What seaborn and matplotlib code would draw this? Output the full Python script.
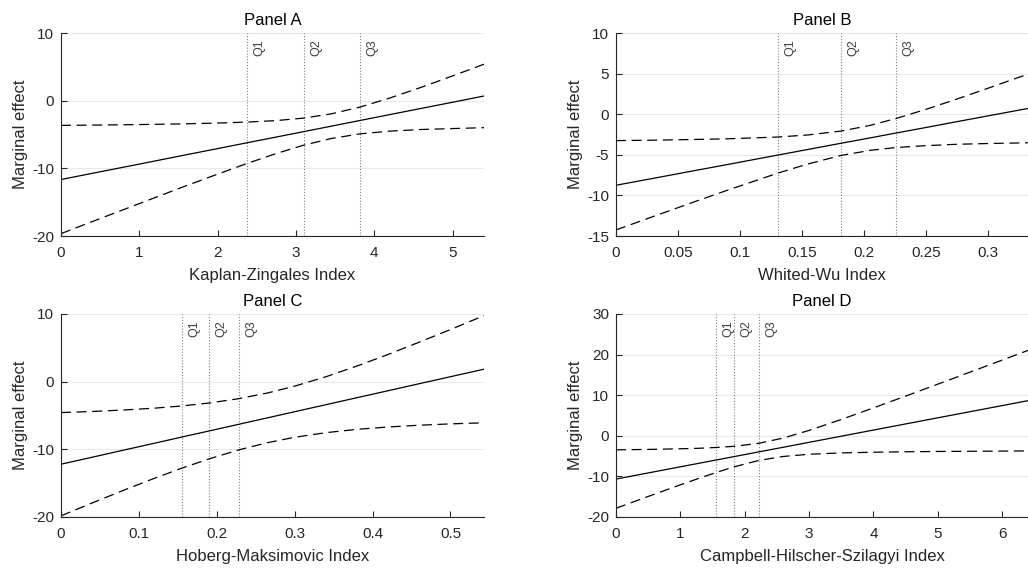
import numpy as np
import pandas as pd
import matplotlib
matplotlib.use("Agg")
import matplotlib.pyplot as plt
import seaborn as sns

# --------------------------------------------------------------
# Data
# --------------------------------------------------------------
titles = ["Panel A", "Panel B", "Panel C", "Panel D"]
xlabels = [
    "Kaplan-Zingales Index",
    "Whited-Wu Index",
    "Hoberg-Maksimovic Index",
    "Campbell-Hilscher-Szilagyi Index",
]

# Panel A
a_x = [0, 0.5, 1, 1.5, 2, 2.38, 2.75, 3.1, 3.45, 3.82, 4.2, 4.6, 5.0, 5.4]
a_me = [-11.65, -10.51, -9.37, -8.22, -7.08, -6.21, -5.37, -4.57, -3.77, -2.92, -2.05, -1.14, -0.23, 0.69]
a_up = [-3.65, -3.60, -3.53, -3.44, -3.31, -3.16, -2.94, -2.57, -1.95, -0.94, 0.40, 1.98, 3.66, 5.39]
a_lo = [-19.65, -17.42, -15.21, -13.0, -10.85, -9.26, -7.80, -6.57, -5.59, -4.90, -4.50, -4.26, -4.12, -3.99]
a_q = [2.38, 3.1, 3.82]

# Panel B
b_x = [0, 0.03, 0.06, 0.09, 0.1305, 0.155, 0.1816, 0.205, 0.2259, 0.25, 0.275, 0.3, 0.332]
b_me = [-8.75, -7.90, -7.04, -6.19, -5.03, -4.33, -3.57, -2.91, -2.31, -1.63, -0.91, -0.20, 0.71]
b_up = [-3.25, -3.20, -3.12, -3.03, -2.81, -2.55, -2.07, -1.37, -0.52, 0.61, 1.88, 3.21, 4.94]
b_lo = [-14.25, -12.60, -10.96, -9.35, -7.25, -6.11, -5.07, -4.45, -4.10, -3.87, -3.70, -3.61, -3.52]
b_q = [0.1305, 0.1816, 0.2259]

# Panel C
c_x = [0, 0.04, 0.08, 0.12, 0.155, 0.19, 0.229, 0.265, 0.3, 0.34, 0.38, 0.42, 0.46, 0.5, 0.543]
c_me = [-12.2, -11.17, -10.13, -9.10, -8.19, -7.29, -6.28, -5.35, -4.44, -3.41, -2.37, -1.34, -0.30, 0.73, 1.84]
c_up = [-4.57, -4.41, -4.19, -3.92, -3.59, -3.16, -2.50, -1.68, -0.66, 0.72, 2.31, 4.02, 5.84, 7.70, 9.76]
c_lo = [-19.83, -17.93, -16.07, -14.28, -12.79, -11.42, -10.06, -9.02, -8.22, -7.54, -7.05, -6.70, -6.44, -6.24, -6.08]
c_q = [0.155, 0.19, 0.229]

# Panel D
d_x = [0, 0.5, 1, 1.3, 1.56, 1.84, 2.22, 2.6, 3.0, 3.5, 4.0, 4.5, 5.0, 5.5, 6.0, 6.4]
d_me = [-10.66, -9.15, -7.64, -6.74, -5.95, -5.11, -3.96, -2.82, -1.61, -0.10, 1.41, 2.92, 4.43, 5.93, 7.44, 8.65]
d_up = [-3.46, -3.36, -3.20, -3.07, -2.88, -2.59, -1.85, -0.55, 1.33, 4.02, 6.87, 9.78, 12.72, 15.68, 18.65, 21.03]
d_lo = [-17.86, -14.94, -12.08, -10.41, -9.02, -7.63, -6.07, -5.09, -4.55, -4.22, -4.05, -3.94, -3.86, -3.82, -3.77, -3.73]
d_q = [1.56, 1.84, 2.22]

panels = [
    (a_x, a_me, a_up, a_lo, a_q, (0, 5.4), (-20, 10), [-20, -10, 0, 10], [0, 1, 2, 3, 4, 5]),
    (b_x, b_me, b_up, b_lo, b_q, (0, 0.332), (-15, 10), [-15, -10, -5, 0, 5, 10],
     [0, 0.05, 0.1, 0.15, 0.2, 0.25, 0.3]),
    (c_x, c_me, c_up, c_lo, c_q, (0, 0.543), (-20, 10), [-20, -10, 0, 10],
     [0, 0.1, 0.2, 0.3, 0.4, 0.5]),
    (d_x, d_me, d_up, d_lo, d_q, (0, 6.4), (-20, 30), [-20, -10, 0, 10, 20, 30],
     [0, 1, 2, 3, 4, 5, 6]),
]

# --------------------------------------------------------------
# Style
# --------------------------------------------------------------
sns.set_theme(style="ticks")
plt.rcParams["font.family"] = ["Liberation Sans", "DejaVu Sans"]
plt.rcParams["axes.unicode_minus"] = False
plt.rcParams["xtick.direction"] = "in"
plt.rcParams["ytick.direction"] = "in"

fig = plt.figure(figsize=(10.28, 5.69), dpi=100)
positions = [
    [0.0593, 0.5852, 0.4115, 0.3568],
    [0.5992, 0.5852, 0.4008, 0.3568],
    [0.0593, 0.0914, 0.4115, 0.3568],
    [0.5992, 0.0914, 0.4008, 0.3568],
]
dash = (0, (8, 4.5))

for i, (x, me, up, lo, q, xlim, ylim, yticks, xticks) in enumerate(panels):
    ax = fig.add_axes(positions[i])
    df = pd.DataFrame({"x": x, "me": me, "up": up, "lo": lo})

    for yv in yticks:
        ax.axhline(yv, color="#e8e8e8", lw=0.8, zorder=0)
    for qi, qv in enumerate(q):
        ax.axvline(qv, color="#808080", lw=0.8, ls=(0, (1, 1.6)), zorder=1)
        ax.annotate(f"Q{qi + 1}", xy=(qv, ylim[1]), xytext=(4.5, -4.5),
                    textcoords="offset points", rotation=90, ha="left", va="top",
                    fontsize=9, color="#404040")

    sns.lineplot(data=df, x="x", y="me", ax=ax, color="black", lw=0.9)
    sns.lineplot(data=df, x="x", y="up", ax=ax, color="black", lw=0.9)
    sns.lineplot(data=df, x="x", y="lo", ax=ax, color="black", lw=0.9)
    ax.lines[-2].set_linestyle(dash)
    ax.lines[-1].set_linestyle(dash)

    ax.set_xlim(*xlim)
    ax.set_ylim(*ylim)
    ax.set_yticks(yticks)
    ax.set_xticks(xticks)
    ax.set_xticklabels([f"{t:g}" for t in xticks])
    ax.set_yticklabels([f"{t:g}" for t in yticks])
    ax.tick_params(labelsize=11, colors="#262626", length=4, width=0.8)
    ax.tick_params(axis="x", pad=7)
    ax.tick_params(axis="y", pad=5)
    for s in ["top", "right"]:
        ax.spines[s].set_visible(False)
    for s in ["left", "bottom"]:
        ax.spines[s].set_color("#262626")
        ax.spines[s].set_linewidth(0.8)
    ax.set_xlabel(xlabels[i], fontsize=12, color="#262626", labelpad=6)
    ax.set_ylabel("Marginal effect", fontsize=12, color="#262626", labelpad=3)
    ax.set_title(titles[i], fontsize=12, color="black", pad=6)

plt.savefig("out.png", dpi=100)
